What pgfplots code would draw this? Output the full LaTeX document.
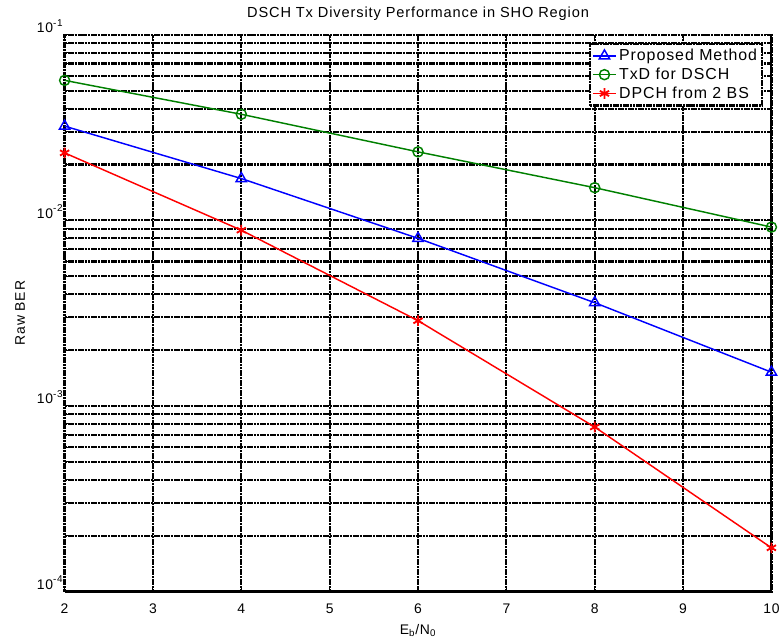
\documentclass[border=0pt]{standalone}
\usepackage{pgfplots}
\pgfplotsset{compat=1.18}
\usepackage{fontspec}
\setmainfont{Liberation Sans}[LetterSpace=6]

\newcommand{\dec}[1]{10\raisebox{0.9ex}{\fontsize{7.5}{8}\selectfont #1}}

\begin{document}
\begin{tikzpicture}
\begin{axis}[
  scale only axis,
  width=533.25pt, height=420pt,
  ymode=log,
  xmin=2, xmax=10, ymin=1e-4, ymax=1e-1,
  xtick={2,3,...,10},
  ytick={1e-4,1e-3,1e-2,1e-1},
  yticklabels={\dec{-4},\dec{-3},\dec{-2},\dec{-1}},
  /pgf/number format/assume math mode=true,
  tick label style={font=\fontsize{10.5}{12}\selectfont},
  xticklabel style={yshift=-6pt},
  yticklabel style={anchor=south east, xshift=2pt, yshift=-2pt},
  tick align=inside,
  major tick length=4pt, minor tick length=2.5pt,
  tick style={black, line width=0.8pt},
  xmajorgrids=true, ymajorgrids=true, yminorgrids=true,
  major grid style={black, line width=1.6pt, dash pattern=on 2pt off 0.5pt},
  minor grid style={black, line width=1.6pt, dash pattern=on 2pt off 0.5pt},
  axis line style={black, line width=1.7pt, dash pattern=on 2pt off 0.5pt},
  title={DSCH Tx Diversity Performance in SHO Region},
  title style={font=\fontsize{11}{13}\selectfont, yshift=1pt},
  xlabel={E\textsubscript{b}/N\textsubscript{0}},
  ylabel={Raw BER},
  label style={font=\fontsize{10.5}{12}\selectfont},
  xlabel style={yshift=-1pt},
  ylabel style={yshift=2pt},
  legend style={at={(axis description cs:1,1)}, anchor=north east,
    xshift=-6pt, yshift=-6pt,
    draw=black, line width=1.6pt, dash pattern=on 2pt off 0.5pt,
    font=\fontsize{12}{14}\selectfont, fill=white,
    row sep=0pt, inner sep=2pt},
  legend cell align=left,
  every axis plot/.append style={line width=1.1pt, solid},
]
\addplot[blue, mark=triangle, mark size=4.5pt, mark options={solid, line width=1.1pt}]
  coordinates {(2,0.0322) (4,0.0168) (6,0.0080) (8,0.0036) (10,0.00152)};
\addlegendentry{Proposed Method}
\addplot[black!50!green, mark=o, mark size=3.8pt, mark options={solid, line width=1.1pt}]
  coordinates {(2,0.0568) (4,0.0373) (6,0.0234) (8,0.0150) (10,0.0092)};
\addlegendentry{TxD for DSCH}
\addplot[red, mark=asterisk, mark size=4pt, mark options={solid, line width=1.4pt}]
  coordinates {(2,0.0231) (4,0.00885) (6,0.00288) (8,0.00077) (10,0.000172)};
\addlegendentry{DPCH from 2 BS}
\end{axis}
\path (-48.75pt,-38.25pt) rectangle (539.25pt,446.25pt);
\end{tikzpicture}
\end{document}
